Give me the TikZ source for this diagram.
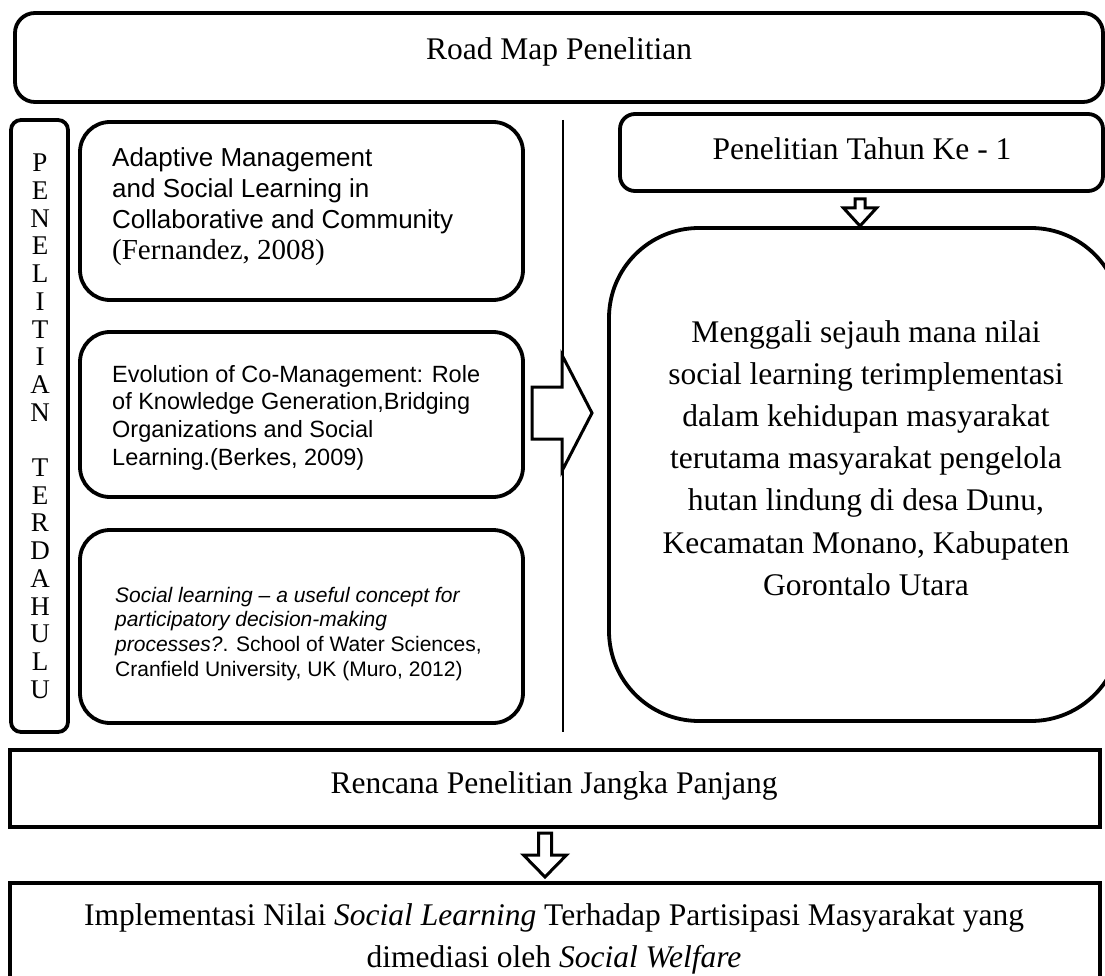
\documentclass[tikz,border=0pt]{standalone}
\usepackage{fontspec}
\setmainfont{Liberation Serif}
\newfontfamily\arialfont{Liberation Sans}
\usetikzlibrary{calc}
\tikzset{
  frame/.style   = {rectangle, draw=black, line width=3.8pt, inner sep=0pt},
  rbox/.style    = {frame, rounded corners=#1},
  rbox/.default  = 30pt,
  txt/.style     = {inner sep=0pt, font=\fontsize{31.5}{42.2}\selectfont},
  lit/.style     = {inner sep=0pt, align=flush left, text width=405pt, anchor=base west},
  vlet/.style    = {inner sep=0pt, font=\fontsize{27}{27}\selectfont},
  blk/.style     = {draw=black, fill=white, line width=3pt, line join=miter},
  divider/.style = {draw=black, line width=1.5pt},
}
% hollow block arrow pointing down: start, tip, shaft half, head half, head length
\newcommand\blkdown[5]{%
  \draw[blk] ($(#1)+(-#3,0)$) -- ($(#2)+(-#3,-#5)$) -- ($(#2)+(-#4,-#5)$) -- (#2)
    -- ($(#2)+(#4,-#5)$) -- ($(#2)+(#3,-#5)$) -- ($(#1)+(#3,0)$) -- cycle;}

\begin{document}
\begin{tikzpicture}[x=1pt, y=-1pt]
  \useasboundingbox (0,0) rectangle (1105,976);
  \clip (0,0) rectangle (1105,976);

  % title
  \node[rbox=20pt, minimum width=1088pt, minimum height=89pt] (road) at (559,57.5) {};
  \node[txt, anchor=base] (roadtxt) at (559,60) {Road Map Penelitian};

  % previous research column
  \node[rbox=10pt, minimum width=57pt, minimum height=612pt] (prev) at (39.5,426) {};
  \foreach \ch [count=\i from 0] in {P,E,N,E,L,I,T,I,A,N}
    \node[vlet] (pa\i) at (40,{163+27.7*\i}) {\ch};
  \foreach \ch [count=\i from 11] in {T,E,R,D,A,H,U,L,U}
    \node[vlet] (pb\i) at (40,{163+27.7*\i}) {\ch};

  \node[rbox, minimum width=443pt, minimum height=178pt] (lit1) at (301.5,211) {};
  \node[rbox, minimum width=443pt, minimum height=165pt] (lit2) at (301.5,414.5) {};
  \node[rbox, minimum width=443pt, minimum height=193pt] (lit3) at (301.5,626.5) {};

  \node[lit, font=\fontsize{26}{30.7}\arialfont] (lit1txt) at (112,167)
    {Adaptive Management\\ and Social Learning in\\ Collaborative and Community\\
     {\fontsize{29}{30.7}\rmfamily (Fernandez, 2008)}};
  \node[lit, font=\fontsize{23.5}{27.8}\arialfont] (lit2txt) at (112,382)
    {Evolution of Co-Management: Role\\ of Knowledge Generation,Bridging\\
     Organizations and Social\\ Learning.(Berkes, 2009)};
  \node[lit, font=\fontsize{21}{24.7}\arialfont] (lit3txt) at (115,602)
    {\textit{Social learning – a useful concept for}\\ \textit{participatory decision-making}\\
     \textit{processes?}. School of Water Sciences,\\ Cranfield University, UK (Muro, 2012)};

  % divider and arrow to the first year
  \coordinate (divtop) at (563,120);
  \coordinate (divbot) at (563,732);
  \draw[divider] (divtop) -- (divbot);
  \coordinate (ra1) at (532,413);
  \coordinate (ra2) at (592,413);
  \draw[blk] ($(ra1)+(0,-26)$) -- ($(ra2)+(-30,-26)$) -- ($(ra2)+(-30,-58)$) -- (ra2)
    -- ($(ra2)+(-30,58)$) -- ($(ra2)+(-30,26)$) -- ($(ra1)+(0,26)$) -- cycle;

  % first year
  \node[rbox=15pt, minimum width=483pt, minimum height=77pt] (year1) at (861.5,152.5) {};
  \node[txt, anchor=base] (year1txt) at (862,160) {Penelitian Tahun Ke - 1};
  \node[rbox=90pt, minimum width=512pt, minimum height=493pt] (goal) at (865,474.5) {};
  \node[txt, anchor=base, text width=505pt, align=flush center] (goaltxt) at (866,342)
    {Menggali sejauh mana nilai\\ social learning terimplementasi\\ dalam kehidupan masyarakat\\
     terutama masyarakat pengelola\\ hutan lindung di desa Dunu,\\ Kecamatan Monano, Kabupaten\\
     Gorontalo Utara};
  \coordinate (a1s) at (860,199);
  \coordinate (a1e) at (860,226);
  \blkdown{a1s}{a1e}{5}{16.5}{18}

  % long term plan
  \node[frame, minimum width=1090pt, minimum height=77pt] (plan) at (555,788.5) {};
  \node[txt, anchor=base] (plantxt) at (554,793) {Rencana Penelitian Jangka Panjang};
  \coordinate (a2s) at (545,833);
  \coordinate (a2e) at (545,877);
  \blkdown{a2s}{a2e}{6.5}{21.5}{22}
  \node[frame, minimum width=1090pt, minimum height=107pt] (impl) at (555,936.5) {};
  \node[txt, anchor=base, text width=1060pt, align=flush center] (impltxt) at (554,925)
    {Implementasi Nilai \textit{Social Learning} Terhadap Partisipasi Masyarakat yang\\
     dimediasi oleh \textit{Social Welfare}};
\end{tikzpicture}
\end{document}
